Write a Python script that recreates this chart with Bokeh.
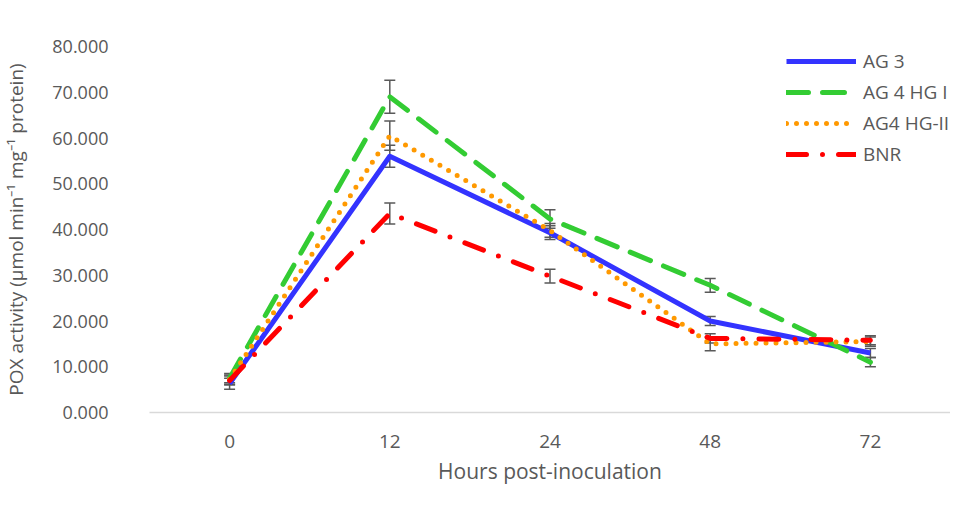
from bokeh.plotting import figure
from bokeh.models import ColumnDataSource, Whisker, Legend, LegendItem, NumeralTickFormatter, TeeHead, FixedTicker
from bokeh.embed import file_html
from bokeh.resources import INLINE

hours = ["0", "12", "24", "48", "72"]
ag3 = [6.3, 56.0, 39.3, 20.0, 13.0]
ag3_err = [1.2, 2.4, 1.5, 1.0, 1.0]
ag4_hg1 = [7.5, 69.0, 42.3, 27.8, 11.0]
ag4_hg1_err = [1.0, 3.6, 2.0, 1.5, 1.0]
ag4_hg2 = [7.2, 60.5, 39.8, 15.0, 15.5]
ag4_hg2_err = [1.0, 3.2, 1.5, 1.5, 1.0]
bnr = [7.0, 43.5, 29.8, 16.2, 15.8]
bnr_err = [1.0, 2.3, 1.5, 1.0, 1.0]

series = [
    ("AG 3", ag3, ag3_err, "#3333ff", "solid", "butt"),
    ("AG 4 HG I", ag4_hg1, ag4_hg1_err, "#33cc33", "22 14", "round"),
    ("AG4 HG-II", ag4_hg2, ag4_hg2_err, "#ff9900", "0 10", "round"),
    ("BNR", bnr, bnr_err, "#ff0000", "20 16 0 16", "round"),
]

FONT = "Open Sans"
GREY = "#595959"

p = figure(width=950, height=490, x_range=hours, y_range=(0, 80),
           output_backend="svg", toolbar_location=None,
           min_border_left=146, min_border_right=0, min_border_top=46, min_border_bottom=78)
p.outline_line_color = None
p.xgrid.grid_line_color = None
p.ygrid.grid_line_color = None

items = []
for name, vals, errs, color, dash, cap in series:
    src = ColumnDataSource(dict(x=hours, y=vals,
                                upper=[v + e for v, e in zip(vals, errs)],
                                lower=[v - e for v, e in zip(vals, errs)]))
    w = Whisker(source=src, base="x", upper="upper", lower="lower",
                line_color=GREY, line_width=1.5, level="underlay",
                upper_head=TeeHead(size=11, line_color=GREY, line_width=1.5),
                lower_head=TeeHead(size=11, line_color=GREY, line_width=1.5))
    p.add_layout(w)
    r = p.line("x", "y", source=src, line_color=color, line_width=5,
               line_dash=dash, line_cap=cap, line_join="round")
    items.append(LegendItem(label=name, renderers=[r]))

legend = Legend(items=items, location=(637, 245), glyph_width=70, glyph_height=20,
                label_height=20, spacing=5, padding=0, margin=0, label_standoff=7,
                border_line_alpha=0, background_fill_alpha=0,
                label_text_font=FONT, label_text_font_size="19px", label_text_color=GREY)
p.add_layout(legend, "center")

p.yaxis.ticker = FixedTicker(ticks=[0, 10, 20, 30, 40, 50, 60, 70, 80])
p.yaxis.formatter = NumeralTickFormatter(format="0.000")
p.yaxis.axis_line_color = None
p.yaxis.major_tick_line_color = None
p.yaxis.minor_tick_line_color = None
p.yaxis.major_label_standoff = 35
p.yaxis.axis_label = "POX activity (µmol min⁻¹ mg⁻¹ protein)"
p.yaxis.axis_label_standoff = 20
p.yaxis.major_label_text_font_size = "18px"
p.yaxis.axis_label_text_font_size = "19px"

p.xaxis.axis_line_color = "#d9d9d9"
p.xaxis.axis_line_width = 1.5
p.xaxis.major_tick_line_color = None
p.xaxis.minor_tick_line_color = None
p.xaxis.major_label_standoff = 16
p.xaxis.axis_label = "Hours post-inoculation"
p.xaxis.axis_label_standoff = 6
p.xaxis.major_label_text_font_size = "19px"
p.xaxis.axis_label_text_font_size = "21px"

for ax in (p.xaxis, p.yaxis):
    ax.major_label_text_font = FONT
    ax.major_label_text_color = GREY
    ax.axis_label_text_font = FONT
    ax.axis_label_text_font_style = "normal"
    ax.axis_label_text_color = GREY

open("out.html", "w").write(file_html(p, INLINE))
